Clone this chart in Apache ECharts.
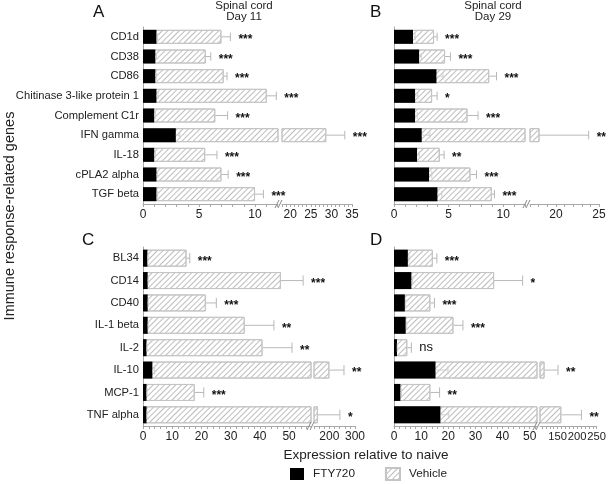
<!DOCTYPE html>
<html><head><meta charset="utf-8">
<script src="https://cdn.jsdelivr.net/npm/echarts@6/dist/echarts.min.js"></script>
<style>html,body{margin:0;padding:0;background:#fff}#c{width:609px;height:484px}</style>
</head><body><div id="c"></div>
<script>
// ---------- data ----------
const genesTop = ['CD1d','CD38','CD86','Chitinase 3-like protein 1','Complement C1r','IFN gamma','IL-18','cPLA2 alpha','TGF beta'];
const genesBottom = ['BL34','CD14','CD40','IL-1 beta','IL-2','IL-10','MCP-1','TNF alpha'];

const ftyA    = [1.2, 1.1, 1.1, 1.2, 1.0, 2.93, 1.0, 1.2, 1.2];
const ftyErrA = [0.1, 0.1, 0.1, 0.15, 0.1, 0.35, 0.1, 0.1, 0.1];
const vehA    = [7.0, 5.6, 7.2, 11.05, 6.45, 28.75, 5.55, 7.0, 10.0];
const vehErrA = [0.8, 0.45, 0.3, 0.85, 1.1, 4.5, 1.05, 0.6, 0.75];
const sigA    = ['***','***','***','***','***','***','***','***','***'];

const ftyB    = [1.74, 2.3, 3.89, 1.93, 1.93, 2.54, 2.11, 3.21, 3.98];
const ftyErrB = [0.2, 0.2, 0.6, 0.25, 0.2, 0.75, 0.2, 0.25, 0.4];
const vehB    = [3.67, 4.68, 8.72, 3.49, 6.73, 18.1, 4.19, 7.0, 8.96];
const vehErrB = [0.28, 0.49, 0.67, 0.46, 0.97, 5.7, 0.4, 0.56, 0.24];
const sigB    = ['***','***','***','*','***','**','**','***','***'];

const ftyC    = [1.5, 1.6, 1.6, 1.6, 1.2, 3.2, 1.2, 1.2];
const ftyErrC = [0.2, 0.2, 0.2, 0.2, 0.2, 0.8, 0.2, 0.2];
const vehC    = [14.9, 47.2, 21.5, 34.8, 40.9, 200, 17.7, 155];
const vehErrC = [1.1, 7.6, 3.6, 10.0, 10.1, 57, 3.1, 86];
const sigC    = ['***','***','***','**','**','**','***','*'];

const ftyD    = [5.1, 6.4, 4.0, 4.3, 1.1, 15.3, 2.35, 17.1];
const ftyErrD = [0.4, 0.5, 0.3, 0.4, 0.1, 4.6, 0.4, 3.1];
const vehD    = [14.3, 36.9, 13.4, 21.9, 4.9, 116.7, 13.4, 159.5];
const vehErrD = [1.5, 10.5, 1.5, 3.5, 1.5, 34.3, 3.4, 51.5];
const sigD    = ['***','*','***','***','ns','**','**','**'];

// axis ranges & tick labels (lower / upper segment of each broken axis)
const rangeA = [[0, 12.05], [18, 35]];
const labelsA = [[0, 5, 10], [20, 25, 30, 35]];
const rangeB = [[0, 12], [17, 25]];
const labelsB = [[0, 5, 10], [20, 25]];
const rangeC = [[0, 57.5], [140, 300]];
const labelsC = [[0, 10, 20, 30, 40, 50], [200, 300]];
const rangeD = [[0, 52.7], [105, 250]];
const labelsD = [[0, 10, 20, 30, 40, 50], [150, 200, 250]];
const tickStep = {A: [1, 1], B: [1, 1], C: [2, 20], D: [2, 10]};

// ---------- layout ----------
const FONT = '"Liberation Sans", Arial, Helvetica, sans-serif';
const AX = '#a8a8a8';
const layout = {
  A: {top: 27, height: 177, lo: [143, 135], hi: [282, 70], bw: 14, fs: [12, 12]},
  B: {top: 27, height: 177, lo: [394, 131], hi: [530, 69], bw: 14, fs: [12, 12]},
  C: {top: 247, height: 179, lo: [143, 168], hi: [314, 41], bw: 17, fs: [12, 12]},
  D: {top: 247, height: 179, lo: [394, 143], hi: [540, 60], bw: 17, fs: [12, 11.2]}
};

function ticks(r, step) {
  const out = [];
  const s = Math.ceil(r[0] / step) * step;
  for (let v = s; v <= r[1] + 1e-9; v += step) out.push(+v.toFixed(6));
  return out;
}

const grids = [], xAxes = [], yAxes = [], series = [];
const hatch = {symbol: 'rect', symbolSize: 1, color: '#bdbdbd', dashArrayX: [1, 0], dashArrayY: [1, 3], rotation: -Math.PI / 4};

function errRender(part, loMax, sigArr, color, withText, capHalf) {
  return function (params, api) {
    const v = api.value(0), i = api.value(1), e = api.value(2);
    const end = v + e;
    if (part === 'lo' && end > loMax) return null;
    if (part === 'hi' && end <= loMax) return null;
    const cs = params.coordSys;
    let p0 = api.coord([v, i]);
    const p1 = api.coord([end, i]);
    if (p0[0] < cs.x) p0 = [cs.x, p0[1]];
    const children = [
      {type: 'line', shape: {x1: p0[0], y1: p0[1], x2: p1[0], y2: p1[1]}, style: {stroke: color, lineWidth: 1}},
      {type: 'line', shape: {x1: p1[0], y1: p1[1] - capHalf, x2: p1[0], y2: p1[1] + capHalf}, style: {stroke: color, lineWidth: 1}}
    ];
    if (withText) {
      const s = sigArr[i];
      const isNs = s === 'ns';
      children.push({type: 'text', style: {
        text: s, x: p1[0] + 8, y: p1[1] + (isNs ? 0 : 3),
        align: 'left', verticalAlign: 'middle',
        font: (isNs ? 'normal 13px ' : 'bold 12px ') + FONT, fill: '#111'
      }});
    }
    return {type: 'group', children: children};
  };
}

function breakRender(params, api) {
  const cs = params.coordSys;
  const x = cs.x, y = cs.y + cs.height;
  return {type: 'group', children: [
    {type: 'line', shape: {x1: x - 7, y1: y + 4, x2: x - 3, y2: y - 4}, style: {stroke: '#888', lineWidth: 1}},
    {type: 'line', shape: {x1: x - 4, y1: y + 4, x2: x, y2: y - 4}, style: {stroke: '#888', lineWidth: 1}}
  ]};
}

function panel(key, cats, fty, ftyErr, veh, vehErr, sig, ranges, labels, showCats) {
  const L = layout[key];
  const loMax = ranges[0][1];
  ['lo', 'hi'].forEach(function (part, k) {
    const gi = grids.length;
    const pos = L[part];
    grids.push({left: pos[0], top: L.top, width: pos[1], height: L.height});
    xAxes.push({
      gridIndex: gi, type: 'value', min: ranges[k][0], max: ranges[k][1],
      axisLine: {show: true, lineStyle: {color: AX, width: 1}},
      axisTick: {show: true, length: 3, customValues: ticks(ranges[k], tickStep[key][k]), lineStyle: {color: AX}},
      axisLabel: {customValues: labels[k], fontSize: L.fs[k], color: '#222', fontFamily: FONT, margin: 5,
                  hideOverlap: false, showMinLabel: true, showMaxLabel: true},
      splitLine: {show: false}
    });
    yAxes.push({
      gridIndex: gi, type: 'category', data: cats, inverse: true,
      axisLine: {show: part === 'lo', lineStyle: {color: AX}},
      axisTick: {show: false},
      axisLabel: {show: part === 'lo' && showCats, fontSize: 11.2, color: '#222', fontFamily: FONT, margin: 4}
    });
    series.push({
      name: 'Vehicle', type: 'bar', xAxisIndex: gi, yAxisIndex: gi, data: veh,
      barWidth: L.bw, barGap: '-100%', clip: true, z: 2,
      itemStyle: {color: '#ffffff', borderColor: '#c4c4c4', borderWidth: 1, decal: hatch},
      emphasis: {disabled: true}
    });
    series.push({
      name: 'FTY720', type: 'bar', xAxisIndex: gi, yAxisIndex: gi, data: fty,
      barWidth: L.bw, barGap: '-100%', clip: true, z: 3,
      itemStyle: {color: '#000000'}, emphasis: {disabled: true}
    });
    series.push({
      type: 'custom', xAxisIndex: gi, yAxisIndex: gi, clip: false, z: 4, silent: true,
      data: veh.map(function (v, i) { return [v, i, vehErr[i]]; }),
      encode: {x: 0, y: 1},
      renderItem: errRender(part, loMax, sig, '#b8b8b8', true, L.bw * 0.3)
    });
    series.push({
      type: 'custom', xAxisIndex: gi, yAxisIndex: gi, clip: false, z: 4, silent: true,
      data: fty.map(function (v, i) { return [v, i, ftyErr[i]]; }),
      encode: {x: 0, y: 1},
      renderItem: errRender(part, loMax, sig, '#cfcfcf', false, L.bw * 0.25)
    });
    if (part === 'hi') {
      series.push({
        type: 'custom', xAxisIndex: gi, yAxisIndex: gi, clip: false, z: 5, silent: true,
        data: [[ranges[1][0], 0]], encode: {x: 0, y: 1}, renderItem: breakRender
      });
    }
  });
}

panel('A', genesTop, ftyA, ftyErrA, vehA, vehErrA, sigA, rangeA, labelsA, true);
panel('B', genesTop, ftyB, ftyErrB, vehB, vehErrB, sigB, rangeB, labelsB, false);
panel('C', genesBottom, ftyC, ftyErrC, vehC, vehErrC, sigC, rangeC, labelsC, true);
panel('D', genesBottom, ftyD, ftyErrD, vehD, vehErrD, sigD, rangeD, labelsD, false);

const chart = echarts.init(document.getElementById('c'), null, {renderer: 'canvas'});
chart.setOption({
  backgroundColor: '#ffffff',
  animation: false,
  textStyle: {fontFamily: FONT},
  grid: grids, xAxis: xAxes, yAxis: yAxes, series: series,
  legend: {
    left: 290, top: 467, padding: 0, itemWidth: 14, itemHeight: 12, itemGap: 30,
    icon: 'rect', selectedMode: false,
    data: ['FTY720', 'Vehicle'],
    textStyle: {fontSize: 11.8, color: '#222', fontFamily: FONT, padding: [0, 0, 0, 4]}
  },
  graphic: [
    {type: 'text', left: 93, top: 4, style: {text: 'A', font: '17px ' + FONT, fill: '#111'}},
    {type: 'text', left: 370, top: 4, style: {text: 'B', font: '17px ' + FONT, fill: '#111'}},
    {type: 'text', left: 82, top: 232, style: {text: 'C', font: '17px ' + FONT, fill: '#111'}},
    {type: 'text', left: 370, top: 232, style: {text: 'D', font: '17px ' + FONT, fill: '#111'}},
    {type: 'text', x: 244, y: 0, style: {text: 'Spinal cord\nDay 11', align: 'center', font: '11.5px ' + FONT, lineHeight: 11.5, fill: '#222'}},
    {type: 'text', x: 493, y: 0, style: {text: 'Spinal cord\nDay 29', align: 'center', font: '11.5px ' + FONT, lineHeight: 11.5, fill: '#222'}},
    {type: 'text', x: 10, y: 216, rotation: Math.PI / 2, style: {text: 'Immune response-related genes', align: 'center', verticalAlign: 'middle', font: '14.5px ' + FONT, fill: '#222'}},
    {type: 'text', x: 366, y: 455, style: {text: 'Expression relative to naive', align: 'center', verticalAlign: 'middle', font: '13.5px ' + FONT, fill: '#222'}}
  ]
});
</script></body></html>
